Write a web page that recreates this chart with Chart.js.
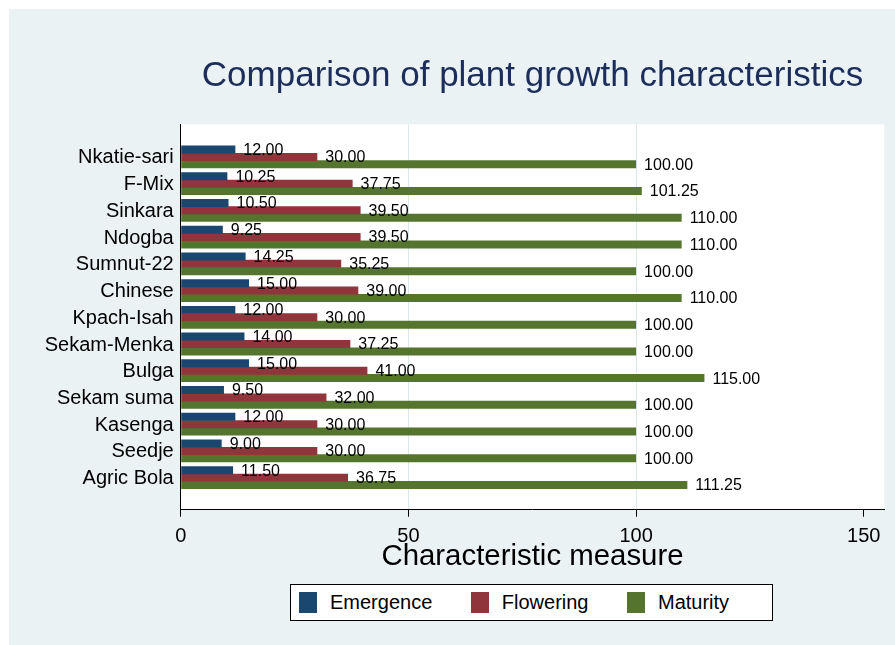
<!DOCTYPE html>
<html>
<head>
<meta charset="utf-8">
<title>Comparison of plant growth characteristics</title>
<script src="https://cdn.jsdelivr.net/npm/chart.js@4.4.1/dist/chart.umd.min.js"></script>
<style>
  body { margin: 0; background: #fff; font-family: "Liberation Sans", Arial, sans-serif; }
  #wrap { position: relative; width: 895px; height: 645px; overflow: hidden; }
  #bg { position: absolute; left: 9px; top: 9px; right: 0; bottom: 0; background: #eaf2f3; }
  #chart { position: absolute; left: 0; top: 0; }
  #legend {
    position: absolute; left: 290px; top: 584px; width: 483px; height: 37px;
    box-sizing: border-box; border: 1px solid #000; background: #fff;
    display: flex; align-items: center; padding-left: 8px;
  }
  .item { display: flex; align-items: center; margin-right: 38.5px; font-size: 20px; color: #000; }
  .sw { display: block; width: 18px; height: 21px; margin-right: 13px; }
</style>
</head>
<body>
<div id="wrap">
  <div id="bg"></div>
  <canvas id="chart" width="895" height="645"></canvas>
  <div id="legend"></div>
</div>
<script>
const CROPS = ["Nkatie-sari", "F-Mix", "Sinkara", "Ndogba", "Sumnut-22", "Chinese", "Kpach-Isah",
  "Sekam-Menka", "Bulga", "Sekam suma", "Kasenga", "Seedje", "Agric Bola"];
const EMERGENCE = [12, 10.25, 10.5, 9.25, 14.25, 15, 12, 14, 15, 9.5, 12, 9, 11.5];
const FLOWERING = [30, 37.75, 39.5, 39.5, 35.25, 39, 30, 37.25, 41, 32, 30, 30, 36.75];
const MATURITY = [100, 101.25, 110, 110, 100, 110, 100, 100, 115, 100, 100, 100, 111.25];
const X_TICKS = [0, 50, 100, 150];

const FONT = "'Liberation Sans', Arial, Helvetica, sans-serif";
Chart.defaults.font.family = FONT;

function series(values) {
  return values.map((v, i) => ({ x: v, y: i }));
}

// white plot region (graph region colour comes from the page)
const plotBg = {
  id: "plotBg",
  beforeDraw(chart) {
    const { ctx, chartArea: a } = chart;
    ctx.save();
    ctx.fillStyle = "#fff";
    ctx.fillRect(a.left, a.top, a.right - a.left, a.bottom - a.top);
    ctx.restore();
  },
};

// value written just past the end of each bar
const barValues = {
  id: "barValues",
  afterDatasetsDraw(chart) {
    const ctx = chart.ctx;
    ctx.save();
    ctx.font = "16px " + FONT;
    ctx.fillStyle = "#000";
    ctx.textAlign = "left";
    ctx.textBaseline = "middle";
    chart.data.datasets.forEach((ds, i) => {
      chart.getDatasetMeta(i).data.forEach((bar, j) => {
        ctx.fillText(ds.data[j].x.toFixed(2), bar.x + 8, bar.y + 1);
      });
    });
    ctx.restore();
  },
};

const chart = new Chart(document.getElementById("chart"), {
  type: "bar",
  data: {
    datasets: [
      { label: "Emergence", data: series(EMERGENCE), backgroundColor: "#1a476f" },
      { label: "Flowering", data: series(FLOWERING), backgroundColor: "#90353b" },
      { label: "Maturity", data: series(MATURITY), backgroundColor: "#55752f" },
    ],
  },
  options: {
    indexAxis: "y",
    responsive: false,
    animation: false,
    layout: { padding: { top: 0, right: 10.7, bottom: 0, left: 0 } },
    datasets: { bar: { categoryPercentage: 0.83, barPercentage: 1.08, borderWidth: 0 } },
    plugins: {
      legend: { display: false },
      tooltip: { enabled: false },
      title: {
        display: true,
        text: "Comparison of plant growth characteristics",
        fullSize: false,
        color: "#1c2d5c",
        font: { size: 35, weight: "normal" },
        padding: { top: 55, bottom: 27.3 },
      },
    },
    scales: {
      x: {
        type: "linear",
        min: 0,
        max: 154.5,
        afterBuildTicks: s => { s.ticks = X_TICKS.map(v => ({ value: v })); },
        afterFit: s => { s.height = 135.3; },
        grid: {
          color: c => (c.tick && c.tick.value > 0 && c.tick.value < 150) ? "#dde8eb" : "transparent",
          tickColor: "#000",
          tickLength: 7,
        },
        border: { display: true, color: "#000", width: 1 },
        ticks: { color: "#000", font: { size: 20 }, padding: 8, maxRotation: 0 },
        title: {
          display: true,
          text: "Characteristic measure",
          color: "#000",
          font: { size: 29.4 },
          padding: { top: 0, bottom: 70.4 },
        },
      },
      y: {
        type: "linear",
        offset: false,
        reverse: true,
        min: -1.22,
        max: 13.2,
        afterBuildTicks: s => { s.ticks = CROPS.map((_, i) => ({ value: i })); },
        afterFit: s => { s.width = 180.7; },
        grid: { display: false, drawTicks: false, offset: false },
        border: { display: true, color: "#000", width: 1 },
        ticks: { color: "#000", font: { size: 20 }, padding: 7, labelOffset: 1, autoSkip: false, callback: v => CROPS[v] },
      },
    },
  },
  plugins: [plotBg, barValues],
});

// legend box built from the datasets
const legendEl = document.getElementById("legend");
chart.data.datasets.forEach(ds => {
  const item = document.createElement("div");
  item.className = "item";
  const sw = document.createElement("span");
  sw.className = "sw";
  sw.style.background = ds.backgroundColor;
  const txt = document.createElement("span");
  txt.textContent = ds.label;
  item.appendChild(sw);
  item.appendChild(txt);
  legendEl.appendChild(item);
});
</script>
</body>
</html>
